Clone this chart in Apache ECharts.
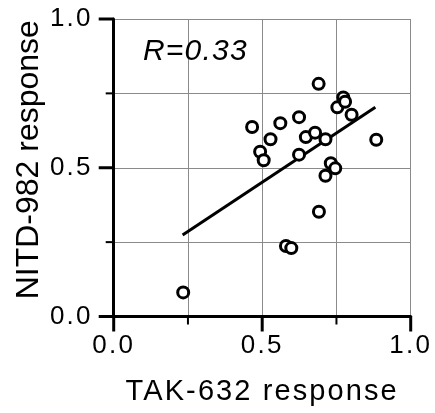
<!DOCTYPE html>
<html>
<head>
<meta charset="utf-8">
<script src="https://cdn.jsdelivr.net/npm/echarts@6/dist/echarts.min.js"></script>
<style>
  html, body { margin: 0; padding: 0; background: #fff; }
  #chart { width: 435px; height: 413px; }
</style>
</head>
<body>
<div id="chart"></div>
<script>
// TAK-632 vs NITD-982 response per sample
const tak632 = [0.234, 0.466, 0.493, 0.505, 0.528, 0.561, 0.624, 0.624, 0.647, 0.678, 0.713, 0.690,
                0.691, 0.713, 0.731, 0.746, 0.753, 0.773, 0.779, 0.801, 0.884, 0.580, 0.598];
const nitd982 = [0.081, 0.637, 0.554, 0.525, 0.596, 0.650, 0.670, 0.544, 0.603, 0.618, 0.596, 0.782,
                 0.352, 0.473, 0.515, 0.498, 0.703, 0.736, 0.722, 0.678, 0.594, 0.237, 0.230];

// linear fit endpoints
const fitX = [0.232, 0.881];
const fitY = [0.274, 0.703];

// tick positions (major every 0.5, minor in between) and labels
const tickValues = [0, 0.25, 0.5, 0.75, 1];
const tickLabels = ['0.0', '0.5', '1.0'];
const xTitle = 'TAK-632 response';
const yTitle = 'NITD-982 response';
const corrText = 'R=0.33';

const points = tak632.map((x, i) => [x, nitd982[i]]);
const fitLine = fitX.map((x, i) => [x, fitY[i]]);

// Expanded letter spacing for the horizontal texts, keyed on the font family list.
const spacingByFamily = [[/Helvetica/, '2.2px'], [/Arial/, '2.1px'], [/Nimbus/, '1.2px']];
const baseFillText = CanvasRenderingContext2D.prototype.fillText;
CanvasRenderingContext2D.prototype.fillText = function (text, x, y, maxWidth) {
  let ls = '0px';
  for (const [re, v] of spacingByFamily) { if (re.test(this.font)) { ls = v; break; } }
  this.letterSpacing = ls;
  return maxWidth === undefined ? baseFillText.call(this, text, x, y)
                                : baseFillText.call(this, text, x, y, maxWidth);
};

const gridColor = '#8a8a8a';
const isMajor = v => Math.abs(v / 0.5 - Math.round(v / 0.5)) < 1e-6;

function makeAxis(name, nameGap, nameStyle, labelMargin) {
  return {
    type: 'value',
    min: 0,
    max: 1,
    interval: 0.5,
    name: name,
    nameLocation: 'middle',
    nameGap: nameGap,
    nameTextStyle: nameStyle,
    axisLine: { show: true, lineStyle: { color: '#000', width: 3 } },
    axisTick: { show: false },
    splitLine: { show: true, lineStyle: { color: gridColor, width: 1 } },
    minorTick: { show: false, splitNumber: 2 },
    minorSplitLine: { show: true, lineStyle: { color: gridColor, width: 1 } },
    axisLabel: {
      color: '#000',
      fontSize: 26,
      margin: labelMargin,
      fontFamily: 'Liberation Sans, Helvetica',
      formatter: v => tickLabels[Math.round(v / 0.5)]
    }
  };
}

// Outward tick marks placed through the axis scales.
function tickSeries(horizontal) {
  return {
    type: 'custom',
    coordinateSystem: 'cartesian2d',
    clip: false,
    silent: true,
    z: 4,
    data: tickValues.map(v => horizontal ? [v, 0] : [0, v]),
    renderItem: function (params, api) {
      const v = horizontal ? api.value(0) : api.value(1);
      const p = api.coord([api.value(0), api.value(1)]);
      const major = isMajor(v);
      const len = major ? 15 : 8;
      const shape = horizontal
        ? { x1: p[0], y1: p[1], x2: p[0], y2: p[1] + len }
        : { x1: p[0] - len, y1: p[1], x2: p[0], y2: p[1] };
      return {
        type: 'line',
        shape: shape,
        style: { stroke: '#000', lineWidth: major ? 3 : 2 }
      };
    }
  };
}

const chart = echarts.init(document.getElementById('chart'), null, { renderer: 'canvas' });
chart.setOption({
  animation: false,
  grid: { left: 113.7, right: 24.3, top: 19, bottom: 96.5 },
  title: {
    text: corrText,
    left: 143,
    top: 37,
    padding: 0,
    textStyle: { color: '#000', fontSize: 30, fontStyle: 'italic', fontWeight: 'normal',
                 fontFamily: 'Liberation Sans, Nimbus Sans' }
  },
  xAxis: makeAxis(xTitle, 61, { color: '#000', fontSize: 29, fontFamily: 'Liberation Sans, Arial' }, 16),
  yAxis: makeAxis(yTitle, 67, { color: '#000', fontSize: 32, fontFamily: 'Liberation Sans', padding: [0, 0, 0, 16] }, 21),
  series: [
    tickSeries(true),
    tickSeries(false),
    {
      type: 'line',
      data: fitLine,
      symbol: 'none',
      lineStyle: { color: '#000', width: 3 },
      z: 2
    },
    {
      type: 'scatter',
      data: points,
      symbol: 'circle',
      symbolSize: 11,
      itemStyle: { color: '#fff', borderColor: '#000', borderWidth: 3, opacity: 1 },
      z: 3
    }
  ]
});
</script>
</body>
</html>
